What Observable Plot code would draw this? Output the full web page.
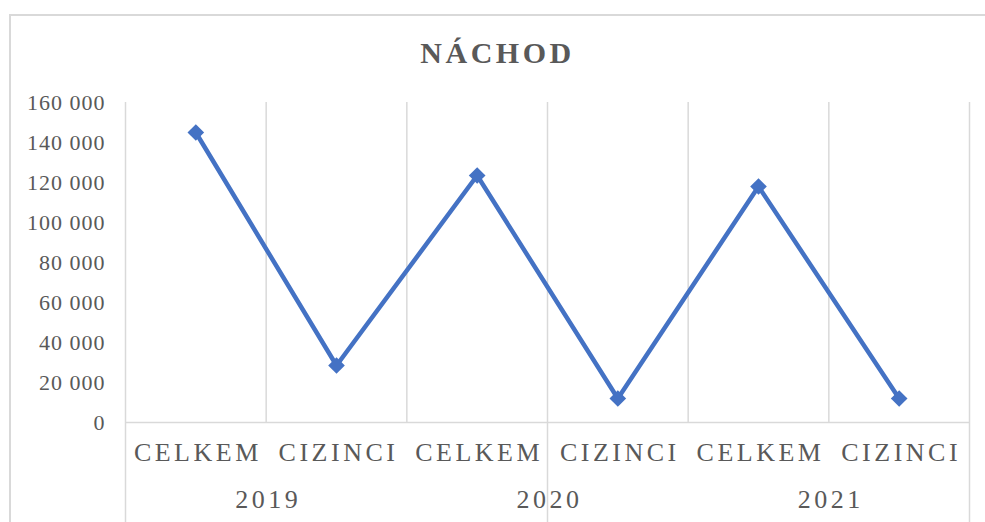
<!DOCTYPE html>
<html>
<head>
<meta charset="utf-8">
<script src="https://cdn.jsdelivr.net/npm/d3@7"></script>
<script src="https://cdn.jsdelivr.net/npm/@observablehq/plot@0.6"></script>
<style>
  html, body { margin: 0; padding: 0; background: #fff; }
  #wrap { position: relative; width: 985px; height: 522px; overflow: hidden; }
  #border { position: absolute; left: 9px; top: 14px; width: 1100px; height: 600px;
            border: 2px solid #d9d9d9; box-sizing: border-box; }
  #chart { position: absolute; left: 0; top: 0; }
  #chart svg text { letter-spacing: 3.5px; }
  #chart svg [aria-label^="y-axis"] text { letter-spacing: 1px; }
</style>
</head>
<body>
<div id="wrap">
  <div id="border"></div>
  <div id="chart"></div>
</div>
<script>
const title = "NÁCHOD";
const categories = ["CELKEM", "CIZINCI", "CELKEM", "CIZINCI", "CELKEM", "CIZINCI"];
const years = ["2019", "2020", "2021"];
const values = [145000, 28500, 123500, 12000, 118000, 12000];
const yTicks = [0, 20000, 40000, 60000, 80000, 100000, 120000, 140000, 160000];

const data = values.map((v, i) => ({i, cat: categories[i], v}));
const fmt = d => d3.format(",")(d).replace(/,/g, " ");
const grid = "#d9d9d9";
const blue = "#4472C4";

const chart = Plot.plot({
  width: 985,
  height: 522,
  marginLeft: 125,
  marginRight: 16,
  marginTop: 102,
  marginBottom: 100,
  style: {fontFamily: "'Liberation Serif', 'Times New Roman', serif", fontSize: "22px", color: "#595959", background: "transparent", overflow: "visible"},
  x: {domain: [0, 6], axis: null},
  y: {domain: [0, 160000], ticks: yTicks, tickFormat: fmt, tickSize: 0, tickPadding: 20, label: null},
  marks: [
    Plot.ruleX([1, 2, 4, 5], {stroke: grid, strokeWidth: 1.5}),
    Plot.ruleX([0, 3, 6], {stroke: grid, strokeWidth: 1.5, insetBottom: -100}),
    Plot.ruleY([0], {stroke: grid, strokeWidth: 1.5}),
    Plot.line(data, {x: d => d.i + 0.5, y: "v", stroke: blue, strokeWidth: 4.5}),
    Plot.dot(data, {x: d => d.i + 0.5, y: "v", symbol: "diamond2", r: 7.5, fill: blue, stroke: "none"}),
    Plot.text(data, {x: d => d.i + 0.5, text: "cat", frameAnchor: "bottom", dy: 38, dx: 2, fontSize: 26, fill: "#595959"}),
    Plot.text(years, {x: (d, i) => i * 2 + 1, text: d => d, frameAnchor: "bottom", dy: 85, dx: 2, fontSize: 26, fill: "#595959"}),
    Plot.text([title], {text: d => d, frameAnchor: "top", lineAnchor: "bottom", dx: -50, dy: -40, fontSize: 30, fontWeight: "bold", fill: "#595959"})
  ]
});
document.getElementById("chart").appendChild(chart);
</script>
</body>
</html>
